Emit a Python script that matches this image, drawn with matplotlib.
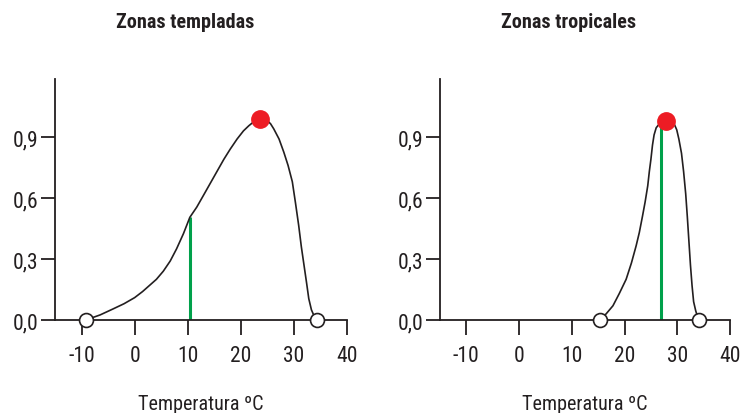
import matplotlib
matplotlib.use("Agg")
import matplotlib.pyplot as plt

plt.rcParams['font.family'] = ['Roboto Condensed', 'DejaVu Sans']

# ---- data ----
titles = ["Zonas templadas", "Zonas tropicales"]
xlabel = "Temperatura ºC"
xticks = [-10, 0, 10, 20, 30, 40]
yticks = [0.0, 0.3, 0.6, 0.9]
ytick_labels = ["0,0", "0,3", "0,6", "0,9"]

temp_x = [-9.2, -6.5, -4.1, -2.0, 0.0, 1.5, 2.8, 4.1, 5.4, 6.7, 7.9, 9.2, 10.4,
          11.7, 12.9, 14.2, 15.5, 16.8, 18.0, 19.3, 20.5, 21.5, 22.3, 23.0,
          23.7, 24.4, 25.0, 25.6, 26.2, 27.2, 28.1, 28.9, 29.7, 30.3, 30.9,
          31.4, 31.9, 32.4, 32.8, 33.3, 33.8, 34.4]
temp_y = [0.0, 0.025, 0.054, 0.08, 0.11, 0.14, 0.17, 0.20, 0.24, 0.29, 0.35, 0.425,
          0.505, 0.555, 0.61, 0.67, 0.73, 0.79, 0.84, 0.89, 0.93, 0.955, 0.972, 0.985,
          0.99, 0.988, 0.98, 0.965, 0.94, 0.89, 0.825, 0.76, 0.68, 0.575, 0.465,
          0.36, 0.27, 0.18, 0.105, 0.05, 0.02, 0.0]
temp_opt = (23.7, 0.99)
temp_mean = (10.4, 0.505)
temp_limits = [-9.2, 34.4]

trop_x = [15.3, 16.5, 17.8, 19.0, 20.3, 21.3, 22.2, 22.8, 23.4, 23.9, 24.4, 24.7,
          25.0, 25.3, 25.6, 26.0, 26.6, 27.3, 27.95, 28.7, 29.4, 29.9, 30.3,
          30.8, 31.2, 31.6, 31.9, 32.2, 32.5, 32.8, 33.1, 33.5, 33.8, 34.1]
trop_y = [0.0, 0.03, 0.07, 0.13, 0.20, 0.28, 0.365, 0.43, 0.51, 0.58, 0.66, 0.73,
          0.79, 0.86, 0.91, 0.945, 0.965, 0.978, 0.98, 0.977, 0.965, 0.935, 0.89,
          0.82, 0.73, 0.62, 0.51, 0.39, 0.27, 0.17, 0.09, 0.045, 0.02, 0.0]
trop_opt = (27.95, 0.98)
trop_mean = (26.9, 0.97)
trop_limits = [15.3, 34.1]

panels = [
    (temp_x, temp_y, temp_opt, temp_mean, temp_limits),
    (trop_x, trop_y, trop_opt, trop_mean, trop_limits),
]

INK = "#231f20"
RED = "#ed1c24"
GREEN = "#00a14b"

W, H = 747, 414
fig = plt.figure(figsize=(W / 100, H / 100), dpi=100)

boxes = [(55, 347), (440, 730)]
top_px, bot_px = 80, 321

for i, ((cx, cy, opt, mean, lims), (l, r)) in enumerate(zip(panels, boxes)):
    ax = fig.add_axes([l / W, (H - bot_px) / H, (r - l) / W, (bot_px - top_px) / H])
    ax.set_xlim(-15, 40)
    ax.set_ylim(0, 1.185)
    for s in ("top", "right"):
        ax.spines[s].set_visible(False)
    for s in ("left", "bottom"):
        ax.spines[s].set_color(INK)
        ax.spines[s].set_linewidth(1.3)
    ax.set_xticks(xticks)
    ax.set_xticklabels([str(t) for t in xticks])
    ax.set_yticks(yticks)
    ax.set_yticklabels(ytick_labels)
    ax.tick_params(axis="x", length=11, width=1.3, color=INK, pad=7,
                   labelsize=15.5, labelcolor=INK)
    ax.tick_params(axis="y", length=10, width=1.3, color=INK, pad=2,
                   labelsize=15.5, labelcolor=INK)
    ax.patch.set_visible(False)

    ax.vlines(mean[0], 0, mean[1], color=GREEN, lw=2.2, zorder=2)
    ax.plot(cx, cy, color=INK, lw=1.2, zorder=3, solid_joinstyle="round")
    ax.plot(lims, [0, 0], "o", ms=10, mfc="white", mec=INK, mew=1.2,
            zorder=5, clip_on=False)
    ax.plot([opt[0]], [opt[1]], "o", ms=12.5, color=RED, zorder=6, clip_on=False)

    ax.set_xlabel(xlabel, fontsize=14.5, color=INK, labelpad=20)
    cxp = (l + r) / 2 - 16
    fig.text(cxp / W, 1 - 22 / H, titles[i], ha="center", va="center",
             fontsize=14.5, fontweight="bold", color=INK)

fig.savefig("out.png", dpi=100)
